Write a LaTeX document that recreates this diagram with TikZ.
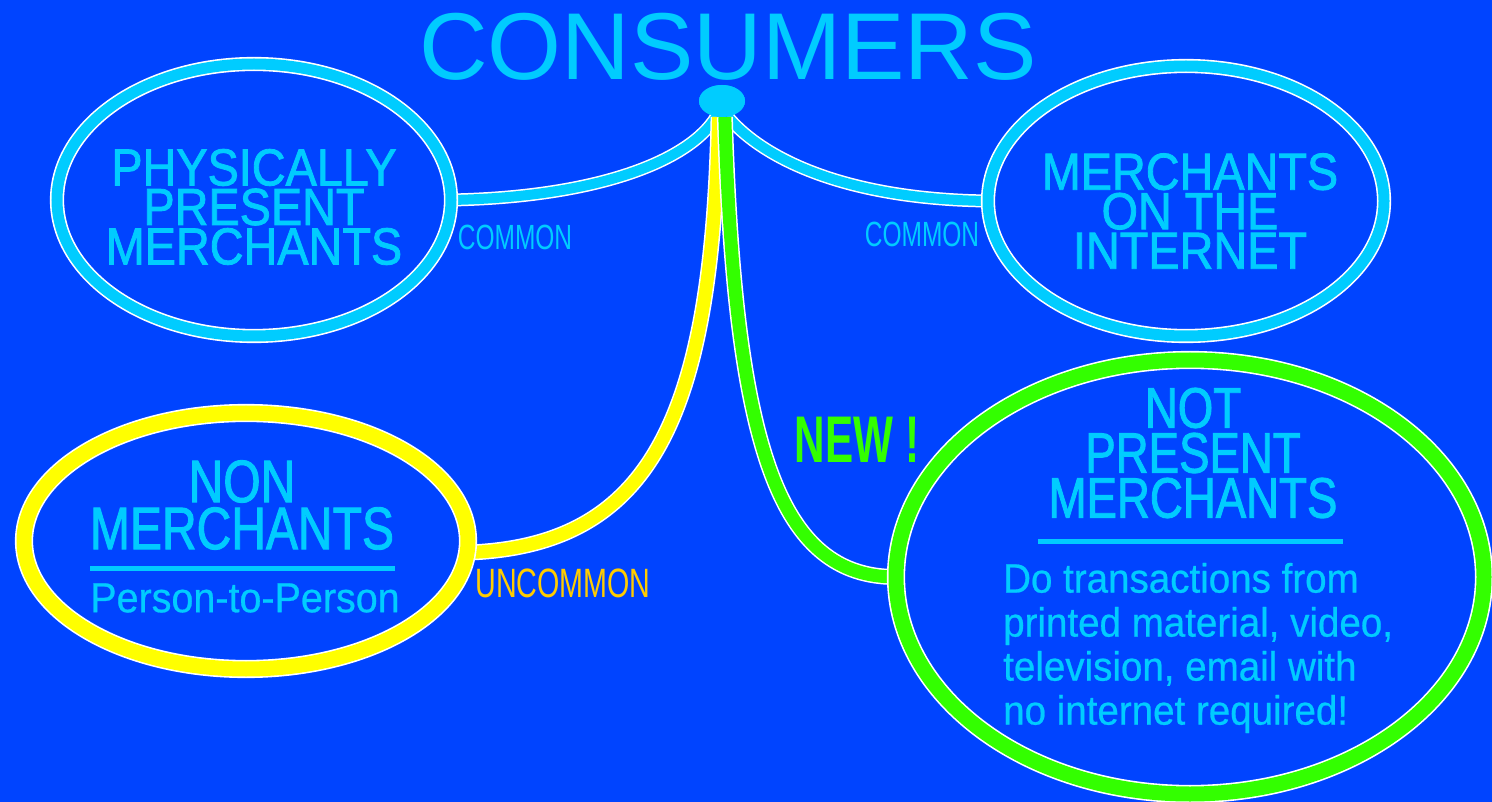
\documentclass[tikz,border=0pt]{standalone}
\usepackage{fontspec}
\setmainfont{Liberation Sans}
\newfontfamily\cninety[FakeStretch=0.9,FakeBold=1.5]{Liberation Sans}
\newfontfamily\ceighty[FakeStretch=0.8,FakeBold=1.5]{Liberation Sans}
\newfontfamily\cbody[FakeStretch=0.94,FakeBold=0.6]{Liberation Sans}
\newfontfamily\cseventy[FakeStretch=0.7]{Liberation Sans}
\newfontfamily\csixty[FakeStretch=0.64]{Liberation Sans}
\usetikzlibrary{shapes.geometric}
\definecolor{bgblue}{HTML}{0044FF}
\definecolor{skyc}{HTML}{00CCFF}
\definecolor{yel}{HTML}{FFFF00}
\definecolor{grn}{HTML}{33FF00}
\definecolor{orng}{HTML}{FFCC00}
\begin{document}
\begin{tikzpicture}[x=1pt,y=-1pt,
  cyanlink/.style={draw=white, line width=1.5pt, double=skyc, double distance=10pt},
  yellink/.style={draw=white, line width=1.5pt, double=yel, double distance=13pt},
  grnlink/.style={draw=white, line width=1.5pt, double=grn, double distance=13pt},
  ringline/.style={draw=white, line width=1.6pt, double=#1},
  hubshape/.style={ellipse, fill=skyc, minimum width=46pt, minimum height=32pt, inner sep=0pt},
  headtxt/.style={text=skyc, align=center, inner sep=0pt},
  tag/.style={inner sep=0pt}]
\fill[bgblue] (0,0) rectangle (1492,802);
\useasboundingbox (0,0) rectangle (1492,802);

% title
\node[tag, text=skyc, font=\fontsize{95}{95}\selectfont] (title) at (728,47) {CONSUMERS};

% hub
\node[hubshape] (hub) at (722,101) {};

% oval placeholders (for anchors)
\coordinate (physc) at (254,200);
\coordinate (webc) at (1186,201);
\coordinate (nonc) at (246,541);
\coordinate (notc) at (1190,577);
\node[ellipse, minimum width=394pt, minimum height=272pt, inner sep=0pt] (phys) at (physc) {};
\node[ellipse, minimum width=396pt, minimum height=270pt, inner sep=0pt] (web) at (webc) {};
\node[ellipse, minimum width=444pt, minimum height=256pt, inner sep=0pt] (non) at (nonc) {};
\node[ellipse, minimum width=588pt, minimum height=434pt, inner sep=0pt] (notp) at (notc) {};

% connectors
\draw[cyanlink] (phys.east) .. controls (600,197) and (690,160) .. (hub.250);
\draw[cyanlink] (hub.290) .. controls (755,150) and (830,199) .. (web.west);
\draw[yellink] (hub.258) .. controls (712,420) and (650,546) .. (non.-3);
\draw[grnlink] (hub.280) .. controls (735,450) and (780,577) .. (notp.west);

% rings
\draw[ringline=skyc, double distance=11pt] (physc) ellipse [x radius=197, y radius=136];
\draw[ringline=skyc, double distance=11pt] (webc) ellipse [x radius=198, y radius=135];
\draw[ringline=yel, double distance=15pt] (nonc) ellipse [x radius=222, y radius=128];
\draw[ringline=grn, double distance=15pt] (notc) ellipse [x radius=294, y radius=217];

% hub on top
\node[hubshape] (hubtop) at (hub) {};

% oval texts
\node[headtxt, font=\cninety\fontsize{52}{39.5}\selectfont] (physt) at (254,207) {PHYSICALLY\\PRESENT\\MERCHANTS};
\node[headtxt, font=\cninety\fontsize{52}{39.5}\selectfont] (webt) at (1190,211) {MERCHANTS\\ON THE\\INTERNET};
\node[headtxt, font=\ceighty\fontsize{60}{47}\selectfont] (nont) at (242,505) {NON\\MERCHANTS};
\draw[skyc, line width=5pt] (90,568) -- (395,568);
\node[tag, text=skyc, font=\cbody\fontsize{42}{42}\selectfont] (p2p) at (245,598) {Person-to-Person};

\node[headtxt, font=\ceighty\fontsize{57}{45}\selectfont] (nott) at (1193,453) {NOT\\PRESENT\\MERCHANTS};
\draw[skyc, line width=5pt] (1038,541) -- (1343,541);
\node[tag, text=skyc, align=left, anchor=west, font=\cbody\fontsize{41}{44}\selectfont] (nodesc) at (1003,648)
  {Do transactions from\\printed material, video,\\television, email with\\no internet required!};

% link labels
\node[tag, text=skyc, font=\cseventy\fontsize{35}{35}\selectfont] (lab1) at (515,237) {COMMON};
\node[tag, text=skyc, font=\cseventy\fontsize{35}{35}\selectfont] (lab2) at (922,234) {COMMON};
\node[tag, text=orng, font=\cseventy\fontsize{41}{41}\selectfont] (lab3) at (563,583) {UNCOMMON};
\node[tag, text=grn, font=\csixty\bfseries\fontsize{66}{66}\selectfont] (lab4) at (857,440) {NEW !};
\end{tikzpicture}
\end{document}
